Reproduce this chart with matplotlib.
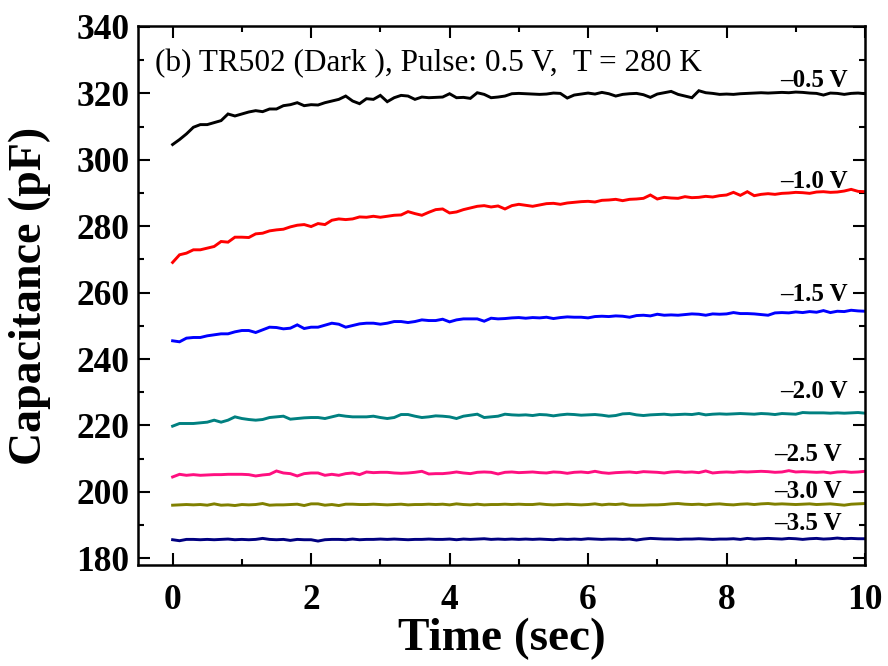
import numpy as np
import matplotlib
matplotlib.use("Agg")
import matplotlib.pyplot as plt
from matplotlib.ticker import MultipleLocator

# Sampling times (s): one reading every 0.1 s from 0 to 10 s
time_s = np.round(np.arange(101) * 0.1, 1)

# Capacitance transients (pF), one row per second of the record
cap_m05 = [
    304.6, 306.1, 307.8, 309.8, 310.6, 310.6, 311.2, 311.8, 313.8, 313.2,
    313.8, 314.4, 314.8, 314.5, 315.3, 315.3, 316.3, 316.6, 317.2, 316.3,
    316.6, 316.5, 317.2, 317.7, 318.2, 319.2, 317.7, 316.9, 318.4, 318.2,
    319.4, 317.5, 318.7, 319.4, 319.2, 318.2, 318.9, 318.7, 318.8, 318.9,
    319.9, 318.7, 318.8, 318.5, 320.2, 319.7, 318.7, 318.9, 319.2, 319.9,
    320.0, 319.9, 319.8, 319.7, 319.8, 320.1, 320.0, 318.6, 319.5, 319.8,
    320.1, 319.8, 320.3, 319.9, 319.2, 319.7, 319.9, 320.0, 319.6, 318.8,
    319.8, 320.2, 320.6, 319.7, 319.2, 318.7, 320.8, 320.2, 320.0, 319.7,
    319.8, 319.7, 319.9, 320.0, 320.1, 320.2, 320.1, 320.2, 320.3, 320.2,
    320.4, 320.3, 320.1, 320.0, 319.5, 320.1, 320.0, 319.7, 320.0, 320.1,
    319.9,
]
cap_m10 = [
    269.1, 271.4, 271.9, 272.9, 272.9, 273.4, 273.9, 275.4, 275.2, 276.7,
    276.7, 276.6, 277.7, 277.9, 278.6, 278.9, 279.1, 279.8, 280.3, 280.5,
    279.9, 280.8, 280.5, 281.8, 282.2, 282.0, 282.2, 282.8, 282.7, 283.0,
    282.7, 283.0, 283.3, 283.4, 284.4, 283.8, 283.3, 284.2, 285.0, 285.2,
    284.0, 284.3, 285.0, 285.5, 286.0, 286.2, 285.8, 286.1, 285.2, 286.2,
    286.6, 286.3, 286.0, 286.4, 286.8, 286.9, 286.6, 287.0, 287.2, 287.4,
    287.5, 287.3, 287.8, 287.9, 288.1, 287.7, 288.1, 288.2, 288.4, 289.4,
    288.2, 288.7, 288.5, 288.4, 288.9, 288.6, 288.7, 289.0, 288.8, 289.2,
    289.4, 290.2, 289.3, 290.4, 289.2, 289.6, 289.8, 289.6, 289.9, 290.0,
    290.2, 290.1, 289.9, 290.3, 290.4, 290.2, 290.3, 290.6, 291.1, 290.5,
    290.4,
]
cap_m15 = [
    245.5, 245.2, 246.3, 246.5, 246.5, 247.0, 247.3, 247.6, 247.6, 248.2,
    248.6, 248.6, 248.0, 248.8, 249.6, 249.5, 249.1, 249.3, 250.3, 249.2,
    249.6, 249.6, 250.2, 250.8, 250.5, 249.6, 250.1, 250.6, 250.8, 250.8,
    250.5, 250.8, 251.3, 251.3, 251.0, 251.3, 251.8, 251.6, 251.6, 252.0,
    251.2, 251.8, 252.1, 252.1, 252.1, 251.4, 252.3, 252.1, 252.2, 252.4,
    252.5, 252.3, 252.5, 252.4, 252.6, 252.2, 252.5, 252.7, 252.6, 252.6,
    252.4, 252.8, 252.9, 252.8, 253.0, 252.9, 252.6, 253.1, 253.2, 253.0,
    253.5, 253.2, 253.3, 253.2, 253.4, 253.6, 253.5, 253.2, 253.6, 253.5,
    253.6, 254.0, 253.7, 253.7, 253.6, 253.4, 253.2, 253.9, 254.0, 253.9,
    254.2, 254.0, 254.3, 254.1, 254.6, 254.0, 254.4, 254.3, 254.7, 254.5,
    254.4,
]
cap_m20 = [
    219.8, 220.6, 220.6, 220.6, 220.8, 221.0, 221.6, 221.0, 221.6, 222.6,
    222.1, 221.8, 221.6, 221.8, 222.4, 222.6, 222.8, 221.9, 222.1, 222.3,
    222.4, 222.4, 222.1, 222.6, 223.1, 222.8, 222.6, 222.6, 222.6, 222.8,
    222.4, 222.1, 222.4, 223.3, 223.3, 222.8, 222.4, 222.6, 222.9, 222.8,
    222.6, 222.1, 222.8, 223.1, 223.4, 222.4, 222.6, 222.8, 223.4, 223.2,
    223.1, 223.2, 223.0, 223.3, 223.2, 222.9, 223.2, 223.4, 223.3, 223.1,
    223.2, 223.3, 223.1, 222.8, 223.0, 223.5, 223.6, 223.2, 223.0, 223.2,
    223.3, 223.4, 223.2, 223.3, 223.4, 223.3, 223.6, 223.2, 223.4, 223.5,
    223.4, 223.5, 223.6, 223.5, 223.4, 223.6, 223.5, 223.3, 223.6, 223.5,
    223.4, 223.9, 223.8, 223.8, 223.8, 223.7, 223.8, 223.7, 223.8, 223.9,
    223.7,
]
cap_m25 = [
    204.5, 205.3, 205.0, 205.2, 205.0, 205.1, 205.2, 205.2, 205.3, 205.3,
    205.3, 205.2, 204.8, 205.1, 205.3, 206.3, 205.7, 205.5, 204.8, 205.5,
    205.7, 205.7, 205.0, 205.3, 205.0, 205.5, 205.7, 205.2, 206.0, 205.8,
    205.9, 205.9, 205.7, 205.6, 205.7, 205.9, 206.2, 205.4, 205.5, 205.5,
    205.7, 206.0, 205.7, 205.5, 205.9, 206.0, 205.9, 205.4, 205.9, 206.0,
    205.8, 205.9, 206.0, 205.8, 205.7, 206.0, 205.9, 205.6, 205.9, 206.0,
    205.8, 206.2, 205.8, 205.6, 205.8, 205.9, 206.0, 205.8, 206.1, 206.0,
    205.9, 205.7, 206.0, 206.1, 205.9, 206.0, 205.8, 206.3, 205.7, 205.9,
    206.0, 205.9, 206.1, 206.0, 206.1, 206.2, 206.1, 205.9, 206.0, 206.4,
    206.0, 206.1, 206.0, 205.9, 206.0, 205.7, 206.0, 206.1, 205.9, 206.0,
    206.2,
]
cap_m30 = [
    196.0, 196.1, 196.2, 196.1, 196.2, 196.0, 196.4, 196.0, 196.1, 195.9,
    196.2, 196.1, 196.2, 196.5, 196.0, 196.1, 196.1, 196.2, 196.3, 195.9,
    196.4, 196.4, 196.0, 196.2, 195.9, 196.3, 196.3, 196.2, 196.2, 196.3,
    196.2, 196.1, 196.2, 196.3, 196.1, 196.2, 196.2, 196.3, 196.2, 196.3,
    196.1, 196.4, 196.2, 196.1, 196.3, 196.1, 196.2, 196.2, 196.3, 196.2,
    196.3, 196.2, 196.2, 196.4, 196.2, 196.1, 196.2, 196.3, 196.2, 196.1,
    196.2, 196.4, 196.1, 196.3, 196.2, 196.4, 196.0, 196.0, 196.0, 196.1,
    196.1, 196.2, 196.4, 196.5, 196.3, 196.2, 196.3, 196.1, 196.3, 196.4,
    196.2, 196.1, 196.3, 196.4, 196.2, 196.4, 196.5, 196.3, 196.4, 196.3,
    196.2, 196.3, 196.4, 196.2, 196.3, 196.4, 196.2, 196.0, 196.3, 196.4,
    196.5,
]
cap_m35 = [
    185.6, 185.3, 185.7, 185.7, 185.6, 185.7, 185.6, 185.7, 185.8, 185.6,
    185.7, 185.6, 185.7, 186.0, 185.7, 185.6, 185.7, 185.4, 185.7, 185.6,
    185.6, 185.2, 185.6, 185.7, 185.7, 185.6, 185.8, 185.6, 185.7, 185.7,
    185.8, 185.7, 185.8, 185.7, 185.6, 185.7, 185.7, 185.8, 185.7, 185.7,
    185.8, 185.6, 185.8, 185.7, 185.8, 185.9, 185.7, 185.8, 185.7, 185.8,
    185.7, 185.8, 185.7, 185.8, 185.7, 185.6, 185.8, 185.7, 185.8, 185.7,
    185.9, 185.8, 185.7, 185.8, 185.8, 185.7, 185.8, 185.5, 185.8, 186.0,
    185.9, 185.8, 185.8, 185.7, 185.8, 185.8, 185.9, 185.8, 185.7, 185.8,
    185.8, 185.9, 185.7, 186.0, 185.8, 185.9, 186.0, 185.9, 185.8, 186.0,
    185.9, 185.7, 185.9, 186.0, 185.8, 185.9, 186.1, 185.9, 186.0, 185.9,
    185.9,
]

bias_labels = ["\u20130.5 V", "\u20131.0 V", "\u20131.5 V", "\u20132.0 V",
               "\u20132.5 V", "\u20133.0 V", "\u20133.5 V"]
series = [cap_m05, cap_m10, cap_m15, cap_m20, cap_m25, cap_m30, cap_m35]
colors = ["#000000", "#ff0000", "#0000ff", "#008080", "#ff0f80", "#808000", "#000080"]
# label anchors (right edge, baseline) in data units
label_x = [9.75, 9.75, 9.75, 9.75, 9.66, 9.66, 9.66]
label_y = [322.0, 291.5, 257.5, 228.3, 209.3, 198.2, 188.4]

x_ticks = [0, 2, 4, 6, 8, 10]
y_ticks = [180, 200, 220, 240, 260, 280, 300, 320, 340]

plt.rcParams['font.family'] = ['Liberation Serif', 'DejaVu Serif']

fig = plt.figure(figsize=(8.88, 6.66), dpi=100)
ax = fig.add_axes([0.1554, 0.1517, 0.8187, 0.8093])

for vals, col in zip(series, colors):
    ax.plot(time_s, vals, color=col, lw=2.1, solid_joinstyle='miter')

for txt, lx, ly in zip(bias_labels, label_x, label_y):
    ax.text(lx, ly, txt, ha='right', va='baseline', fontsize=18,
            fontweight='bold')

ax.text(-0.26, 326.6, "(b) TR502 (Dark ), Pulse: 0.5 V,  T = 280 K",
        ha='left', va='baseline', fontsize=22.5)

ax.set_xlim(-0.5, 10)
ax.set_ylim(178, 340.3)
ax.set_xticks(x_ticks)
ax.set_yticks(y_ticks)
ax.xaxis.set_minor_locator(MultipleLocator(1))
ax.yaxis.set_minor_locator(MultipleLocator(10))
ax.tick_params(which='both', direction='in', top=True, right=True, width=1.5)
ax.tick_params(which='major', length=8.5)
ax.tick_params(which='minor', length=4.5)
ax.tick_params(axis='x', which='major', pad=14)
ax.tick_params(axis='y', which='major', pad=6)
for lab in ax.get_xticklabels() + ax.get_yticklabels():
    lab.set_fontsize(25.5)
    lab.set_fontweight('bold')
for sp in ax.spines.values():
    sp.set_linewidth(1.8)

ax.set_xlabel("Time (sec)", fontsize=34, fontweight='bold', labelpad=0)
ax.set_ylabel("Capacitance (pF)", fontsize=33, fontweight='bold', labelpad=18)

fig.savefig("out.png", dpi=100)
